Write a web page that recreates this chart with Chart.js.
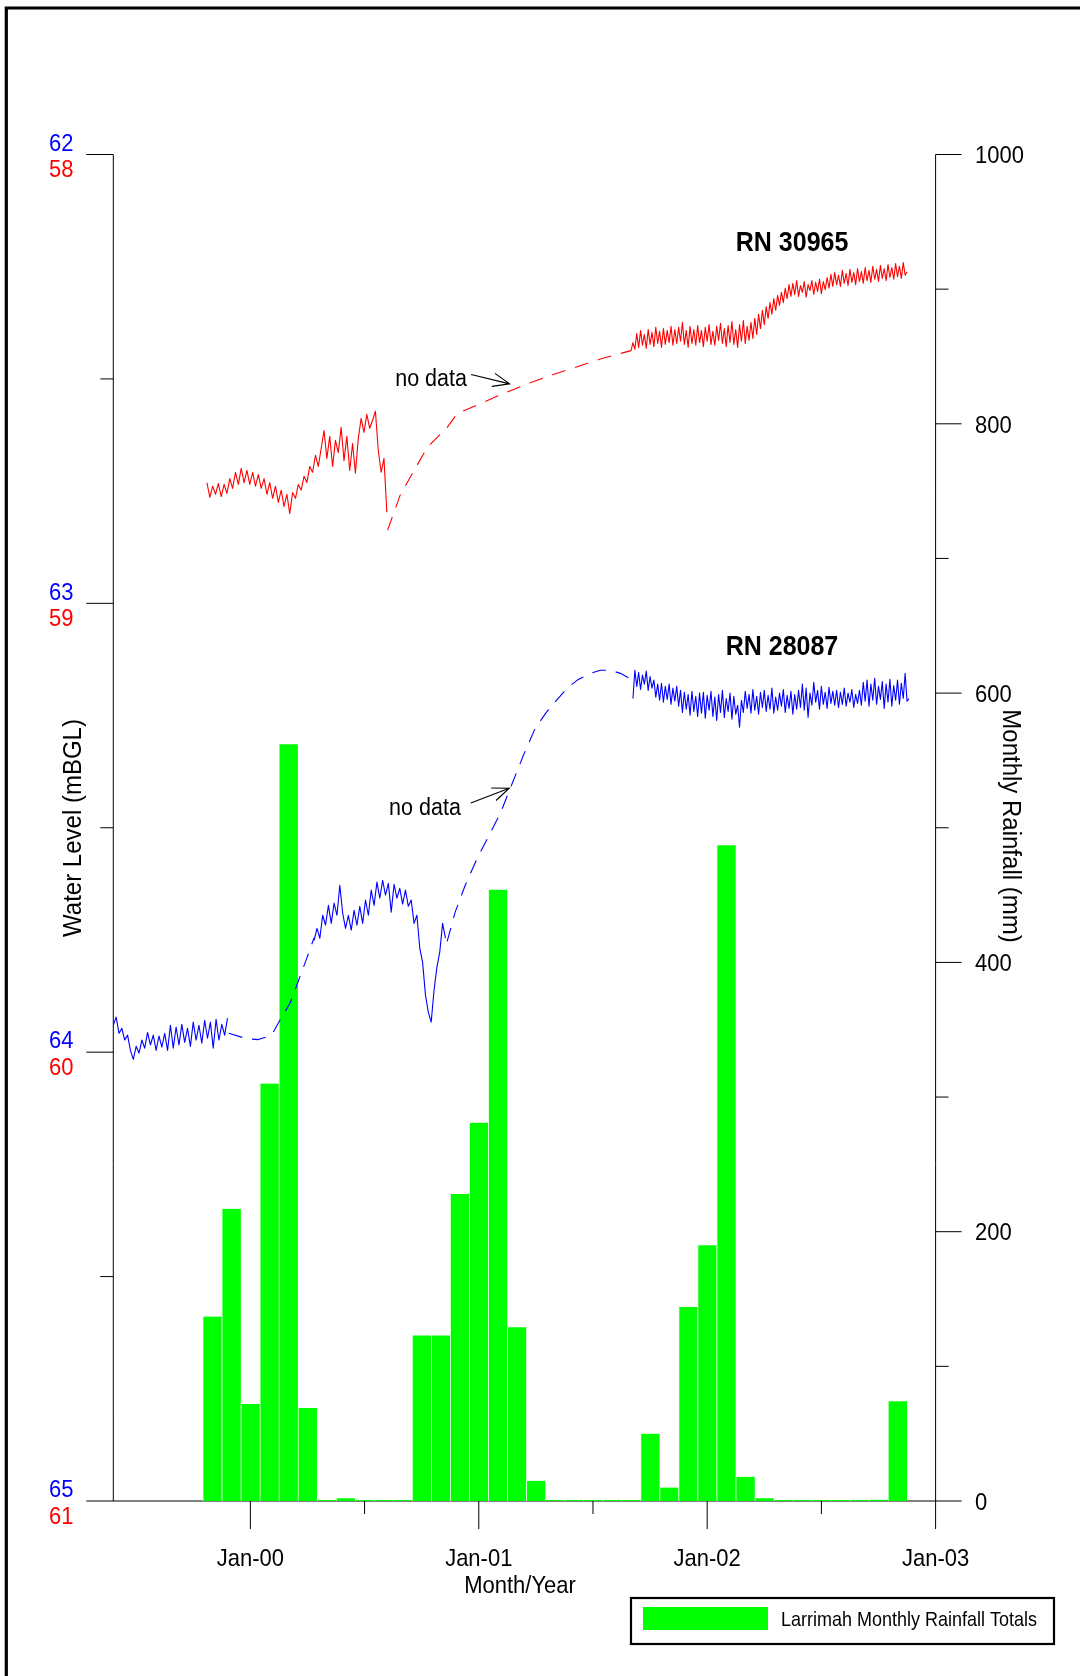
<!DOCTYPE html>
<html>
<head>
<meta charset="utf-8">
<script src="https://cdn.jsdelivr.net/npm/chart.js@4.4.1/dist/chart.umd.min.js"></script>
<style>
  html, body { margin: 0; padding: 0; background: #fff; }
  #wrap { width: 1080px; height: 1676px; }
</style>
</head>
<body>
<div id="wrap"><canvas id="chart" width="1080" height="1676"></canvas></div>
<script>
/* x values are months counted from Jan-2000 */
const xTickMonths = [0, 6, 12, 18, 24, 30, 36];
const xTickLabels = ['Jan-00', '', 'Jan-01', '', 'Jan-02', '', 'Jan-03'];
const blueTicks = [62, 62.5, 63, 63.5, 64, 64.5, 65];
const redTicks = [58, 59, 60, 61];
const rainTicks = [0, 100, 200, 300, 400, 500, 600, 700, 800, 900, 1000];

/* Larrimah monthly rainfall (mm) */
const rainMonths = [-2, -1, 0, 1, 2, 3, 4, 5, 6, 7, 8, 9, 10, 11, 12, 13, 14, 15, 16, 17, 18,
  19, 20, 21, 22, 23, 24, 25, 26, 27, 28, 29, 30, 31, 32, 33, 34];
const rainMm = [137, 217, 72, 310, 562, 69, 0, 2, 0, 0, 0, 123, 123, 228, 281, 454, 129, 15, 0, 0, 0,
  0, 0, 50, 10, 144, 190, 487, 18, 2, 0, 0, 0, 0, 0, 1, 74];

/* logger readings: months between plotted readings */
const logStep = 0.15;
const denseStep = 0.1;

/* RN 30965 (red, mBGL) */
const redAStart = -2.28;
const redA = [58.731, 58.764, 58.739, 58.757, 58.733, 58.762, 58.735, 58.755, 58.722, 58.744,
  58.708, 58.735, 58.699, 58.731, 58.704, 58.735, 58.708, 58.739, 58.713, 58.744,
  58.722, 58.757, 58.731, 58.766, 58.739, 58.775, 58.748, 58.784, 58.757, 58.800,
  58.753, 58.766, 58.735, 58.748, 58.717, 58.731, 58.695, 58.708, 58.670, 58.695,
  58.655, 58.615, 58.677, 58.628, 58.695, 58.637, 58.664, 58.608, 58.682, 58.628,
  58.704, 58.644, 58.710, 58.633, 58.588, 58.619, 58.579, 58.610, 58.592, 58.572,
  58.659, 58.708, 58.677, 58.797];
const redGapMonths = [7.21, 7.87, 8.40, 9.29, 10.34, 10.87, 12.08, 13.32, 14.62, 15.92, 17.09, 18.51, 20.00];
const redGapLevels = [58.837, 58.759, 58.719, 58.653, 58.608, 58.577, 58.555, 58.532, 58.510, 58.490, 58.474, 58.454, 58.437];
const redBStart = 20.0;
const redB = [58.437, 58.419, 58.434, 58.399, 58.430, 58.392, 58.425, 58.401, 58.432, 58.390,
  58.423, 58.396, 58.428, 58.385, 58.421, 58.394, 58.430, 58.388, 58.423, 58.392,
  58.419, 58.383, 58.425, 58.390, 58.421, 58.385, 58.416,
  58.374, 58.423, 58.392, 58.430, 58.383, 58.421, 58.390, 58.425, 58.381, 58.419,
  58.392, 58.428, 58.385, 58.416, 58.379, 58.423, 58.394, 58.425, 58.383, 58.414,
  58.376, 58.421, 58.388, 58.428, 58.381, 58.419, 58.372, 58.423, 58.390, 58.430,
  58.379, 58.416, 58.370, 58.421, 58.383, 58.414, 58.374, 58.410,
  58.365, 58.401, 58.356, 58.388, 58.347, 58.379, 58.339, 58.365, 58.330, 58.356,
  58.321, 58.347, 58.314, 58.336, 58.307, 58.330, 58.298, 58.321,
  58.290, 58.316, 58.287, 58.312, 58.281, 58.316, 58.292, 58.307, 58.283, 58.318,
  58.290, 58.303, 58.281, 58.312, 58.285, 58.305, 58.278, 58.310, 58.283, 58.301, 58.274,
  58.298, 58.267, 58.294, 58.263, 58.290, 58.269, 58.294, 58.258, 58.287, 58.265,
  58.292, 58.256, 58.285, 58.263, 58.290, 58.254, 58.283, 58.261, 58.287, 58.252,
  58.281, 58.258, 58.285, 58.249, 58.278, 58.256, 58.283, 58.247, 58.276, 58.254,
  58.281, 58.245, 58.274, 58.252, 58.278, 58.243, 58.272, 58.249, 58.276, 58.241,
  58.269, 58.261];

/* RN 28087 (blue, mBGL) */
const blueAStart = -7.2;
const blueA = [63.940, 63.922, 63.958, 63.947, 63.973, 63.962, 63.996, 64.016, 63.987, 64.002,
  63.973, 63.991, 63.956, 63.984, 63.962, 63.996, 63.964, 63.989, 63.958, 63.996,
  63.940, 63.991, 63.944, 63.984, 63.938, 63.978, 63.947, 63.987, 63.933, 63.973,
  63.940, 63.980, 63.929, 63.969, 63.933, 63.991, 63.927, 63.973, 63.938, 63.962,
  63.924];
const blueGapAMonths = [-1.13, -0.19, 0.42, 1.12, 1.47, 2.08, 2.44, 2.96, 3.35];
const blueGapALevels = [63.958, 63.970, 63.972, 63.962, 63.935, 63.891, 63.851, 63.791, 63.745];
const blueBStart = 3.35;
const blueB = [63.751, 63.724, 63.746, 63.695, 63.717, 63.673, 63.713, 63.668, 63.695, 63.628,
  63.690, 63.724, 63.695, 63.728, 63.684, 63.717, 63.675, 63.713, 63.661, 63.695,
  63.639, 63.673, 63.621, 63.657, 63.617, 63.650, 63.624, 63.688, 63.626, 63.657,
  63.635, 63.670, 63.639, 63.675, 63.661, 63.713, 63.695, 63.768, 63.800, 63.873,
  63.911, 63.933, 63.862, 63.811, 63.777, 63.713, 63.746];
const blueGapBMonths = [10.34, 10.76, 11.29, 11.92, 12.60, 13.13, 13.76, 14.34, 14.97, 15.55,
  16.08, 16.65, 17.18, 17.87, 18.39, 18.92, 19.44, 20.08];
const blueGapBLevels = [63.753, 63.688, 63.628, 63.568, 63.512, 63.468, 63.401, 63.339, 63.278, 63.243,
  63.216, 63.189, 63.171, 63.156, 63.149, 63.149, 63.156, 63.171];
const blueCStart = 20.10;
const blueC = [63.212, 63.149, 63.185, 63.154, 63.192, 63.160, 63.180, 63.151, 63.194, 63.163, 63.189,
  63.171, 63.209, 63.180, 63.216, 63.178, 63.220, 63.185, 63.214, 63.180, 63.225, 63.189, 63.218, 63.185,
  63.229, 63.194, 63.243, 63.198, 63.236, 63.203, 63.249, 63.196, 63.241, 63.207, 63.252, 63.200,
  63.245, 63.198, 63.256, 63.205, 63.238, 63.196, 63.252, 63.209, 63.261, 63.203,
  63.243, 63.194, 63.254, 63.212, 63.241, 63.200, 63.258, 63.207, 63.247, 63.227, 63.276,
  63.216, 63.243, 63.196, 63.234, 63.203, 63.245, 63.192, 63.238, 63.207, 63.247,
  63.198, 63.232, 63.194, 63.241, 63.205, 63.236, 63.189, 63.245, 63.209, 63.238,
  63.200, 63.229, 63.192, 63.243, 63.205, 63.234, 63.196, 63.247, 63.203, 63.236,
  63.194, 63.232,
  63.180, 63.238, 63.189, 63.254, 63.200, 63.227, 63.176, 63.220, 63.194, 63.236,
  63.185, 63.225, 63.198, 63.234, 63.187, 63.223, 63.196,
  63.227, 63.194, 63.232, 63.198, 63.225, 63.189, 63.229, 63.200, 63.220, 63.192,
  63.232, 63.203, 63.223, 63.194, 63.227,
  63.176, 63.218, 63.171, 63.229, 63.180, 63.216, 63.167, 63.225, 63.185, 63.214,
  63.174, 63.234, 63.180, 63.220, 63.169, 63.229, 63.183, 63.216, 63.171, 63.225,
  63.178, 63.212, 63.156, 63.218, 63.212];

const RED = '#ff0000', BLUE = '#0000ff', GREEN = '#00ff00';
const FONT = '"Liberation Sans", Arial, sans-serif';
const TALL = 1.1;

function logged(start, levels, step) { return levels.map((v, i) => ({ x: start + i * step, y: v })); }
function paired(months, levels) { return months.map((m, i) => ({ x: m, y: levels[i] })); }

function txt(ctx, s, x, y, size, color, align, bold, rot) {
  ctx.save();
  ctx.translate(x, y);
  if (rot) ctx.rotate(rot);
  ctx.scale(1, TALL);
  ctx.font = (bold ? 'bold ' : '') + size + 'px ' + FONT;
  ctx.fillStyle = color;
  ctx.textAlign = align;
  ctx.textBaseline = 'alphabetic';
  ctx.fillText(s, 0, 0);
  ctx.restore();
}

function arrow(ctx, x1, y1, x2, y2) {
  const ang = Math.atan2(y2 - y1, x2 - x1), L = 18, w = 0.38;
  ctx.beginPath();
  ctx.moveTo(x1, y1); ctx.lineTo(x2, y2);
  ctx.moveTo(x2 - L * Math.cos(ang - w), y2 - L * Math.sin(ang - w));
  ctx.lineTo(x2, y2);
  ctx.lineTo(x2 - L * Math.cos(ang + w), y2 - L * Math.sin(ang + w));
  ctx.stroke();
}

const axesPlugin = {
  id: 'axes',
  beforeDatasetsDraw(chart) {
    const ctx = chart.ctx, a = chart.chartArea, s = chart.scales;
    ctx.save();
    ctx.strokeStyle = '#000';
    ctx.lineWidth = 1;
    ctx.beginPath();
    ctx.moveTo(a.left, a.top); ctx.lineTo(a.left, a.bottom);
    ctx.moveTo(a.right, a.top); ctx.lineTo(a.right, a.bottom);
    ctx.moveTo(a.left, a.bottom); ctx.lineTo(a.right, a.bottom);
    s.yBlue.ticks.forEach(t => {
      const p = s.yBlue.getPixelForValue(t.value);
      const len = Number.isInteger(t.value) ? 27 : 13;
      ctx.moveTo(a.left - len, p); ctx.lineTo(a.left, p);
    });
    s.yRain.ticks.forEach(t => {
      const p = s.yRain.getPixelForValue(t.value);
      const len = t.value % 200 === 0 ? 26 : 13;
      ctx.moveTo(a.right, p); ctx.lineTo(a.right + len, p);
    });
    s.x.ticks.forEach(t => {
      const p = s.x.getPixelForValue(t.value);
      const len = t.value % 12 === 0 ? 28 : 13;
      ctx.moveTo(p, a.bottom); ctx.lineTo(p, a.bottom + len);
    });
    ctx.stroke();
    ctx.restore();
  },
  afterDraw(chart) {
    const ctx = chart.ctx, a = chart.chartArea, s = chart.scales;
    // page frame
    ctx.save();
    ctx.strokeStyle = '#000';
    ctx.lineWidth = 3.2;
    ctx.beginPath();
    ctx.moveTo(6.3, 1700); ctx.lineTo(6.3, 8); ctx.lineTo(1100, 8);
    ctx.stroke();
    ctx.restore();

    // left tick labels, blue over red
    s.yBlue.ticks.forEach(t => {
      if (!Number.isInteger(t.value)) return;
      txt(ctx, String(t.value), 73.5, s.yBlue.getPixelForValue(t.value) - 3.8, 22, BLUE, 'right');
    });
    s.yRed.ticks.forEach(t => {
      txt(ctx, String(t.value), 73.5, s.yRed.getPixelForValue(t.value) + 22.7, 22, RED, 'right');
    });
    // right tick labels
    s.yRain.ticks.forEach(t => {
      if (t.value % 200 !== 0) return;
      txt(ctx, String(t.value), a.right + 39.5, s.yRain.getPixelForValue(t.value) + 8.7, 22, '#000', 'left');
    });
    // x tick labels
    s.x.ticks.forEach(t => {
      const lab = xTickLabels[xTickMonths.indexOf(t.value)];
      if (lab) txt(ctx, lab, s.x.getPixelForValue(t.value), a.bottom + 64.5, 22, '#000', 'center');
    });
    txt(ctx, 'Month/Year', 520, 1593, 22, '#000', 'center');
    txt(ctx, 'Water Level (mBGL)', 80.5, 828, 24, '#000', 'center', false, -Math.PI / 2);
    txt(ctx, 'Monthly Rainfall (mm)', 1003, 826, 24, '#000', 'center', false, Math.PI / 2);

    // bore labels and gap notes
    txt(ctx, 'RN 30965', s.x.getPixelForValue(28.46), s.yRed.getPixelForValue(58.215), 25, '#000', 'center', true);
    txt(ctx, 'RN 28087', s.x.getPixelForValue(27.93), s.yBlue.getPixelForValue(63.116), 25, '#000', 'center', true);
    txt(ctx, 'no data', s.x.getPixelForValue(7.61), s.yRed.getPixelForValue(58.516), 21.5, '#000', 'left');
    txt(ctx, 'no data', s.x.getPixelForValue(7.29), s.yBlue.getPixelForValue(63.472), 21.5, '#000', 'left');
    ctx.save();
    ctx.strokeStyle = '#000';
    ctx.lineWidth = 1.1;
    arrow(ctx, s.x.getPixelForValue(11.60), s.yRed.getPixelForValue(58.490),
      s.x.getPixelForValue(13.62), s.yRed.getPixelForValue(58.511));
    arrow(ctx, s.x.getPixelForValue(11.58), s.yBlue.getPixelForValue(63.445),
      s.x.getPixelForValue(13.60), s.yBlue.getPixelForValue(63.412));
    ctx.restore();

    // legend box
    ctx.save();
    ctx.strokeStyle = '#000';
    ctx.lineWidth = 2.2;
    ctx.strokeRect(631, 1598, 423, 46);
    ctx.fillStyle = GREEN;
    ctx.fillRect(643, 1607, 125, 23);
    ctx.restore();
    txt(ctx, chart.data.datasets[0].label, 781, 1626, 18, '#000', 'left');
  }
};

const lineStyle = { type: 'line', borderWidth: 1.1, pointRadius: 0, fill: false, tension: 0,
  borderJoinStyle: 'round', order: 1 };

new Chart(document.getElementById('chart'), {
  type: 'bar',
  data: {
    datasets: [
      {
        label: 'Larrimah Monthly Rainfall Totals',
        data: paired(rainMonths, rainMm),
        xAxisID: 'x', yAxisID: 'yRain',
        backgroundColor: GREEN,
        borderColor: '#e2ffe2',
        borderWidth: { left: 1, top: 0, right: 0, bottom: 0 },
        categoryPercentage: 1, barPercentage: 1,
        minBarLength: 1,
        order: 10
      },
      { ...lineStyle, label: 'RN 30965', data: logged(redAStart, redA, logStep), yAxisID: 'yRed', borderColor: RED },
      { ...lineStyle, label: 'RN 30965 gap', data: paired(redGapMonths, redGapLevels), yAxisID: 'yRed', borderColor: RED, borderDash: [14, 10] },
      { ...lineStyle, label: 'RN 30965', data: logged(redBStart, redB, denseStep), yAxisID: 'yRed', borderColor: RED },
      { ...lineStyle, label: 'RN 28087', data: logged(blueAStart, blueA, logStep), yAxisID: 'yBlue', borderColor: BLUE },
      { ...lineStyle, label: 'RN 28087 gap', data: paired(blueGapAMonths, blueGapALevels), yAxisID: 'yBlue', borderColor: BLUE, borderDash: [14, 10] },
      { ...lineStyle, label: 'RN 28087', data: logged(blueBStart, blueB, logStep), yAxisID: 'yBlue', borderColor: BLUE },
      { ...lineStyle, label: 'RN 28087 gap', data: paired(blueGapBMonths, blueGapBLevels), yAxisID: 'yBlue', borderColor: BLUE, borderDash: [14, 10] },
      { ...lineStyle, label: 'RN 28087', data: logged(blueCStart, blueC, denseStep), yAxisID: 'yBlue', borderColor: BLUE }
    ]
  },
  options: {
    responsive: false,
    devicePixelRatio: 1,
    animation: false,
    events: [],
    layout: { padding: { left: 113.3, right: 144.4, top: 154.5, bottom: 175 } },
    plugins: { legend: { display: false }, tooltip: { enabled: false } },
    scales: {
      x: {
        type: 'linear', min: -7.2, max: 36, offset: false, display: false,
        grid: { offset: false },
        afterBuildTicks: (sc) => { sc.ticks = xTickMonths.map(v => ({ value: v })); }
      },
      yRain: {
        type: 'linear', position: 'right', min: 0, max: 1000, display: false,
        afterBuildTicks: (sc) => { sc.ticks = rainTicks.map(v => ({ value: v })); }
      },
      yBlue: {
        type: 'linear', position: 'left', min: 62, max: 65, reverse: true, display: false,
        afterBuildTicks: (sc) => { sc.ticks = blueTicks.map(v => ({ value: v })); }
      },
      yRed: {
        type: 'linear', position: 'left', min: 58, max: 61, reverse: true, display: false,
        afterBuildTicks: (sc) => { sc.ticks = redTicks.map(v => ({ value: v })); }
      }
    }
  },
  plugins: [axesPlugin]
});
</script>
</body>
</html>
